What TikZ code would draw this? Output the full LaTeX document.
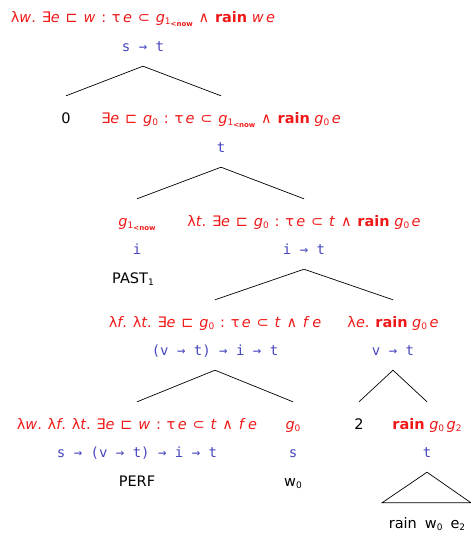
\documentclass[tikz,border=0pt]{standalone}
\usepackage{fontspec}
\setmainfont{DejaVu Sans}
\setmonofont{DejaVu Sans Mono}
\definecolor{semred}{RGB}{240,25,25}
\definecolor{typeblue}{RGB}{70,70,190}
\newcommand\vv[1]{\textit{#1}}
\newcommand\lsub[1]{\raisebox{-0.3ex}{\small #1}}
\newcommand\gnow{\vv{g}\raisebox{-0.3ex}{\small 1\raisebox{-0.4ex}{\scriptsize\bfseries <now}}}
\newcommand\rn{\textbf{rain}}
\newcommand\op[1]{\hspace{0.4em}#1\hspace{0.4em}}
\newcommand\lam[1]{λ\vv{#1}.\hspace{0.4em}}
\begin{document}
\begin{tikzpicture}[x=1pt,y=-1pt,
  every node/.style={anchor=base,inner sep=1pt,text height=10pt,text depth=3pt,font=\fontsize{14.5}{17}\selectfont},
  sem/.style={text=semred},
  typ/.style={text=typeblue,font=\fontsize{14}{17}\selectfont\ttfamily},
  wrd/.style={text=black},
  br/.style={line width=0.7pt}]
\useasboundingbox (0,0) rectangle (471,533);
% root
\node[sem] (r) at (143,22) {\lam{w}∃\vv{e}\op{⊏}\vv{w}\op{:}τ\,\vv{e}\op{⊂}\gnow\op{∧}\rn\ \vv{w}\,\vv{e}};
\node[typ] (rt) at (143,51) {s → t};
% level 1
\node[wrd] (zero) at (66,123) {0};
\node[sem] (a) at (221,123) {∃\vv{e}\op{⊏}\vv{g}\lsub{0}\op{:}τ\,\vv{e}\op{⊂}\gnow\op{∧}\rn\ \vv{g}\lsub{0}\,\vv{e}};
\node[typ] (at) at (221,152) {t};
% level 2
\node[sem] (past) at (137,226) {\gnow};
\node[typ] (pastt) at (137,254) {i};
\node[wrd] (pastw) at (133,283) {PAST\lsub{1}};
\node[sem] (b) at (304,226) {\lam{t}∃\vv{e}\op{⊏}\vv{g}\lsub{0}\op{:}τ\,\vv{e}\op{⊂}\vv{t}\op{∧}\rn\ \vv{g}\lsub{0}\,\vv{e}};
\node[typ] (bt) at (304,254) {i → t};
% level 3
\node[sem] (c) at (215,327) {\lam{f}\lam{t}∃\vv{e}\op{⊏}\vv{g}\lsub{0}\op{:}τ\,\vv{e}\op{⊂}\vv{t}\op{∧}\vv{f}\,\vv{e}};
\node[typ] (ct) at (215,355) {(v → t) → i → t};
\node[sem] (d) at (393,327) {\lam{e}\rn\ \vv{g}\lsub{0}\,\vv{e}};
\node[typ] (dt) at (393,355) {v → t};
% level 4
\node[sem] (perf) at (137,429) {\lam{w}\lam{f}\lam{t}∃\vv{e}\op{⊏}\vv{w}\op{:}τ\,\vv{e}\op{⊂}\vv{t}\op{∧}\vv{f}\,\vv{e}};
\node[typ] (perft) at (137,457) {s → (v → t) → i → t};
\node[wrd] (perfw) at (137,486) {PERF};
\node[sem] (g) at (293,429) {\vv{g}\lsub{0}};
\node[typ] (gt) at (293,457) {s};
\node[wrd] (gw) at (293,486) {w\lsub{0}};
\node[wrd] (two) at (359,429) {2};
\node[sem] (rg) at (427,429) {\rn\ \vv{g}\lsub{0}\,\vv{g}\lsub{2}};
\node[typ] (rgt) at (427,457) {t};
\node[wrd] (leaf) at (427,528) {rain\hspace{8pt}w\lsub{0}\hspace{8pt}e\lsub{2}};
% branches
\newcommand\branch[3]{%
  \draw[br] ([yshift=16pt]#2.north) -- ([yshift=-11pt]#1.south) -- ([yshift=16pt]#3.north);}
\branch{rt}{zero}{a}
\branch{at}{past}{b}
\branch{bt}{c}{d}
\branch{ct}{perf}{g}
\branch{dt}{two}{rg}
\draw[br] ([yshift=-11pt]rgt.south) -- ([xshift=-45pt,yshift=14pt]leaf.north) -- ([xshift=44pt,yshift=14pt]leaf.north) -- cycle;
\end{tikzpicture}
\end{document}
